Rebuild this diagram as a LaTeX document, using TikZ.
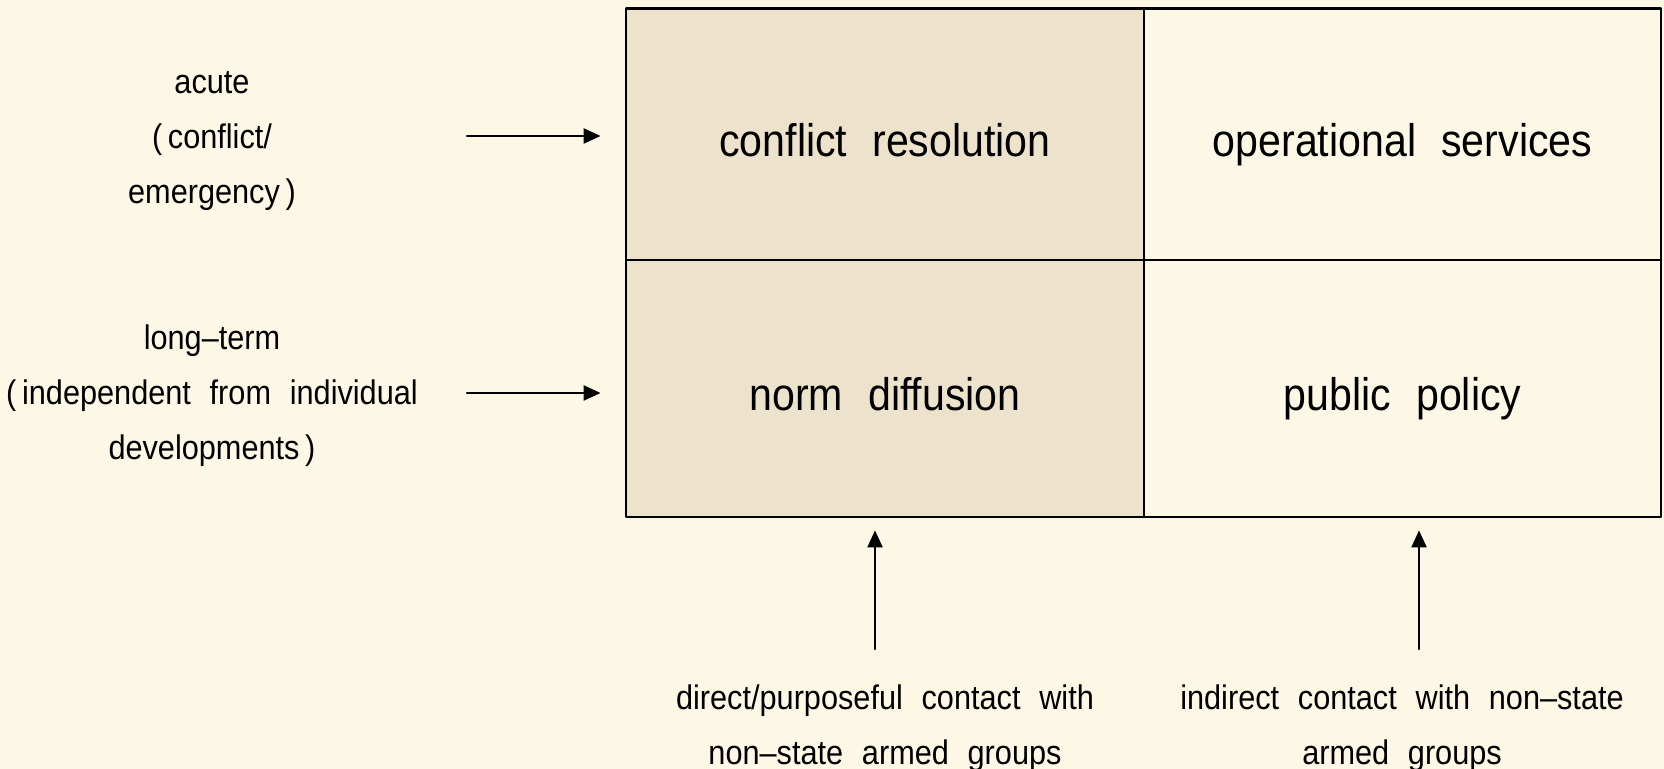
\documentclass[tikz,border=0pt]{standalone}
\usepackage{fontspec}
\setmainfont[FakeStretch=0.9,WordSpace=2.2]{Liberation Sans}
\usetikzlibrary{arrows.meta}
\definecolor{engBg}{RGB}{253,248,230}
\definecolor{engShade}{RGB}{237,227,205}

\begin{document}
\begin{tikzpicture}[x=1cm, y=1cm, line cap=round, line join=round]
% 2x2 engagement matrix, 100 px per cm
\def\gridlw{0.8pt}
\def\arrowlw{0.65pt}
\tikzset{
  cellbox/.style={draw=black, line width=\gridlw, inner sep=0pt, minimum width=5.18cm, text height=12.4pt, text depth=0pt, font=\fontsize{13}{15}\selectfont},
  sidetext/.style={align=center, inner sep=0pt, font=\fontsize{9.7}{15.6}\selectfont},
  feedarrow/.style={line width=\arrowlw, -{Triangle[length=1.7mm,width=1.5mm]}},
}
% Background
\useasboundingbox[fill=engBg] (0,0) rectangle (16.64,-7.69);
% Cells
\node[cellbox, fill=engShade, minimum height=2.515cm] (confres) at (8.85,-1.3425) {conflict resolution};
\node[cellbox, fill=engBg, minimum height=2.515cm, minimum width=5.17cm] (opserv) at (14.025,-1.3425) {operational services};
\node[cellbox, fill=engShade, minimum height=2.57cm] (normdiff) at (8.85,-3.885) {norm diffusion};
\node[cellbox, fill=engBg, minimum height=2.57cm, minimum width=5.17cm] (pubpol) at (14.025,-3.885) {public policy};
% Row labels
\node[sidetext] (acute) at (2.12,-1.41) {acute\\(\,conflict/\\emergency\,)};
\node[sidetext] (longterm) at (2.12,-3.96) {long--term\\(\,independent from individual\\developments\,)};
% Column labels
\node[sidetext] (direct) at (8.85,-7.285) {direct/purposeful contact with\\non--state armed groups};
\node[sidetext] (indirect) at (14.02,-7.285) {indirect contact with non--state\\armed groups};
% Arrows
\coordinate (acuteTail) at (4.67,-1.36);
\coordinate (longTail) at (4.67,-3.93);
\coordinate (directTail) at (8.75,-6.49);
\coordinate (indirectTail) at (14.19,-6.49);
\draw[feedarrow] (acuteTail) -- ([xshift=-0.24cm]acuteTail -| confres.west);
\draw[feedarrow] (longTail) -- ([xshift=-0.24cm]longTail -| normdiff.west);
\draw[feedarrow] (directTail) -- ([yshift=-0.12cm]directTail |- normdiff.south);
\draw[feedarrow] (indirectTail) -- ([yshift=-0.12cm]indirectTail |- pubpol.south);
\end{tikzpicture}
\end{document}
